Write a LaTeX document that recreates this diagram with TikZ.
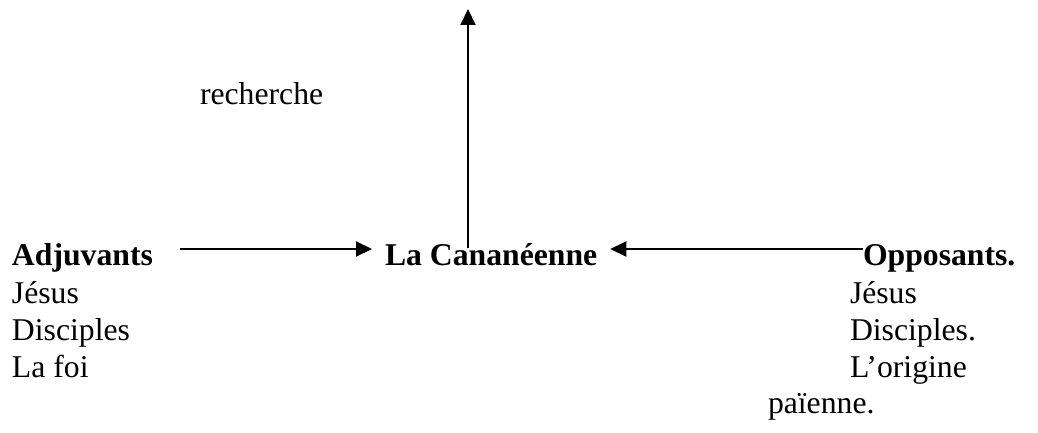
\documentclass[tikz,border=0pt]{standalone}
\usepackage{fontspec}
\setmainfont{Liberation Serif}
\usetikzlibrary{arrows.meta}
\begin{document}
\begin{tikzpicture}[x=1pt,y=-1pt,
  lbl/.style={inner sep=0pt,outer sep=0pt,anchor=base west,font=\fontsize{31.7}{37}\selectfont},
  head/.style={lbl,font=\fontsize{31.7}{37}\selectfont\bfseries},
  arr/.style={line width=2pt,-{Triangle[length=16pt,width=15pt]}}]
\useasboundingbox (0,0) rectangle (1038,433);

% actants
\node[head] (adj) at (12,265) {Adjuvants};
\node[head] (can) at (385,265) {La Cananéenne};
\node[head] (opp) at (863,265) {Opposants.};
\node[lbl] (rech) at (200,105) {recherche};

% helpers
\node[lbl] (a1) at (12,303) {Jésus};
\node[lbl] (a2) at (12,340) {Disciples};
\node[lbl] (a3) at (12,377) {La foi};

% opponents
\node[lbl] (o1) at (850,303) {Jésus};
\node[lbl] (o2) at (850,340) {Disciples.};
\node[lbl] (o3) at (850,377) {L’origine};
\node[lbl] (o4) at (768,413) {païenne.};

% quest axis
\coordinate (top) at (468,9);
\draw[arr] ([xshift=83pt,yshift=17pt]can.base west) -- (top);

% helper and opponent axes
\draw[arr, shorten <=27pt, shorten >=13pt] ([yshift=16pt]adj.base east) -- ([yshift=16pt]can.base west);
\draw[arr, shorten >=13pt] ([yshift=16pt]opp.base west) -- ([yshift=16pt]can.base east);
\end{tikzpicture}
\end{document}
